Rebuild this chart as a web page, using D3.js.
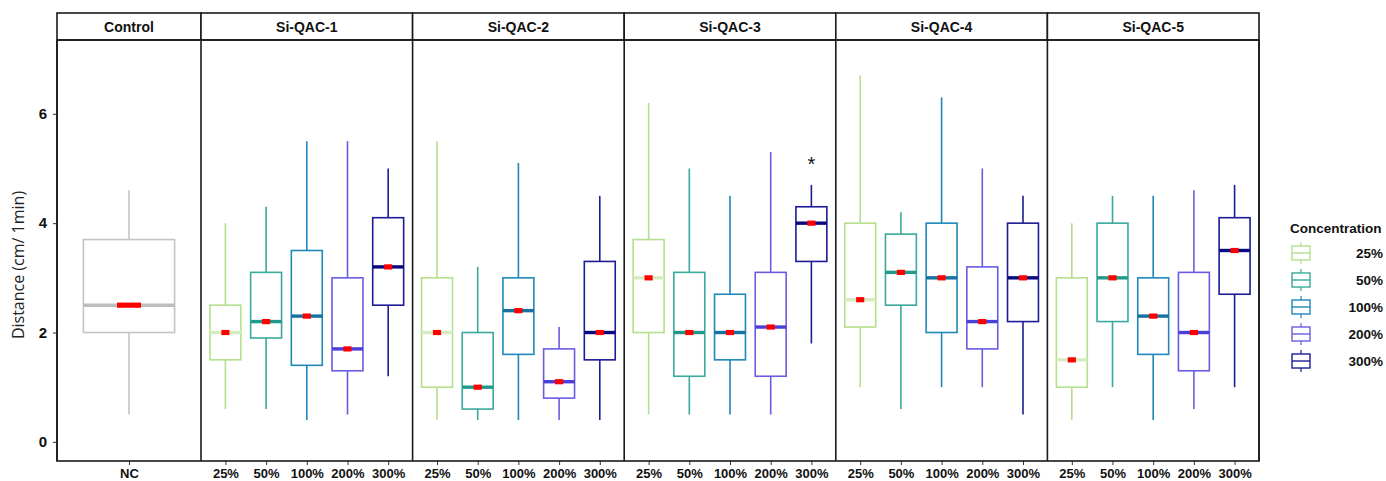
<!DOCTYPE html>
<html>
<head>
<meta charset="utf-8">
<script src="https://cdn.jsdelivr.net/npm/d3@7"></script>
<style>
  body { margin: 0; background: #fff; }
  svg { display: block; font-family: "Liberation Sans", Arial, sans-serif; }
</style>
</head>
<body>
<div id="chart"></div>
<script>
// ---- data ----
const groups = ["Si-QAC-1", "Si-QAC-2", "Si-QAC-3", "Si-QAC-4", "Si-QAC-5"]
const concentrations = ["25%", "50%", "100%", "200%", "300%"]
const concColors = ["#b5df8c", "#38a99a", "#1f88b8", "#6a5ce2", "#1c1c96"]
const medianColors = ["#d6ecc0", "#1f9a8a", "#16729f", "#4a3fd6", "#0a0a80"]

// one row per group, one value per concentration
const whiskerLow = [
  [0.6, 0.6, 0.4, 0.5, 1.2],
  [0.4, 0.4, 0.4, 0.4, 0.4],
  [0.5, 0.5, 0.5, 0.5, 1.8],
  [1.0, 0.6, 1.0, 1.0, 0.5],
  [0.4, 1.0, 0.4, 0.6, 1.0]
]
const q1 = [
  [1.5, 1.9, 1.4, 1.3, 2.5],
  [1.0, 0.6, 1.6, 0.8, 1.5],
  [2.0, 1.2, 1.5, 1.2, 3.3],
  [2.1, 2.5, 2.0, 1.7, 2.2],
  [1.0, 2.2, 1.6, 1.3, 2.7]
]
const medians = [
  [2.0, 2.2, 2.3, 1.7, 3.2],
  [2.0, 1.0, 2.4, 1.1, 2.0],
  [3.0, 2.0, 2.0, 2.1, 4.0],
  [2.6, 3.1, 3.0, 2.2, 3.0],
  [1.5, 3.0, 2.3, 2.0, 3.5]
]
const q3 = [
  [2.5, 3.1, 3.5, 3.0, 4.1],
  [3.0, 2.0, 3.0, 1.7, 3.3],
  [3.7, 3.1, 2.7, 3.1, 4.3],
  [4.0, 3.8, 4.0, 3.2, 4.0],
  [3.0, 4.0, 3.0, 3.1, 4.1]
]
const whiskerHigh = [
  [4.0, 4.3, 5.5, 5.5, 5.0],
  [5.5, 3.2, 5.1, 2.1, 4.5],
  [6.2, 5.0, 4.5, 5.3, 4.7],
  [6.7, 4.2, 6.3, 5.0, 4.5],
  [4.0, 4.5, 4.5, 4.6, 4.7]
]
const means = [
  [2.0, 2.2, 2.3, 1.7, 3.2],
  [2.0, 1.0, 2.4, 1.1, 2.0],
  [3.0, 2.0, 2.0, 2.1, 4.0],
  [2.6, 3.1, 3.0, 2.2, 3.0],
  [1.5, 3.0, 2.3, 2.0, 3.5]
]
// significance marks: [group index, concentration index, label]
const signif = [[2, 4, "*"]]

const controlLabel = "NC"
const controlStats = { low: 0.5, q1: 2.0, median: 2.5, q3: 3.7, high: 4.6, mean: 2.5 }
const controlColor = "#c4c4c4"
const yTicks = [0, 2, 4, 6]

// ---- layout ----
const width = 1386, height = 481
const plotTop = 13, stripH = 27, plotBottom = 461
const ctrlLeft = 57, ctrlRight = 201, groupsRight = 1259

const svg = d3.select("#chart").append("svg")
  .attr("width", width)
  .attr("height", height)

let y = d3.scaleLinear()
  .domain([-0.35, 7.35])
  .range([plotBottom, plotTop + stripH])

let panelX = d3.scaleBand()
  .domain(groups)
  .range([ctrlRight, groupsRight])

const boxFrac = 0.76, meanFrac = 0.2

function drawBox(g, cx, step, s, color, medColor) {
  let bw = step * boxFrac
  g.append("line")
    .attr("x1", cx).attr("x2", cx)
    .attr("y1", y(s.high)).attr("y2", y(s.q3))
    .attr("stroke", color).attr("stroke-width", 1.6)
  g.append("line")
    .attr("x1", cx).attr("x2", cx)
    .attr("y1", y(s.q1)).attr("y2", y(s.low))
    .attr("stroke", color).attr("stroke-width", 1.6)
  g.append("rect")
    .attr("x", cx - bw / 2).attr("y", y(s.q3))
    .attr("width", bw).attr("height", y(s.q1) - y(s.q3))
    .attr("fill", "white").attr("stroke", color).attr("stroke-width", 1.6)
  g.append("line")
    .attr("x1", cx - bw / 2).attr("x2", cx + bw / 2)
    .attr("y1", y(s.median)).attr("y2", y(s.median))
    .attr("stroke", medColor).attr("stroke-width", 3.4)
  let mw = step * meanFrac
  g.append("rect")
    .attr("x", cx - mw / 2).attr("y", y(s.mean) - 2.6)
    .attr("width", mw).attr("height", 5.2)
    .attr("fill", "#ff0000")
}

function drawStrip(x0, x1, label) {
  svg.append("rect")
    .attr("x", x0).attr("y", plotTop)
    .attr("width", x1 - x0).attr("height", stripH)
    .attr("fill", "white").attr("stroke", "#1a1a1a").attr("stroke-width", 1.6)
  svg.append("text")
    .attr("x", (x0 + x1) / 2).attr("y", plotTop + stripH / 2 + 5)
    .attr("text-anchor", "middle")
    .attr("font-size", "14px").attr("font-weight", "bold")
    .attr("fill", "#111")
    .text(label)
}

function drawBottomAxis(scale) {
  svg.append("g")
    .attr("transform", `translate(0, ${plotBottom})`)
    .call(d3.axisBottom(scale).tickSize(4).tickSizeOuter(0))
    .call(g => g.select(".domain").remove())
    .call(g => g.selectAll(".tick line").attr("stroke", "#333"))
    .call(g => g.selectAll(".tick text")
      .attr("y", 8)
      .attr("font-family", "Liberation Sans, Arial, sans-serif")
      .attr("font-size", "13px").attr("font-weight", "bold")
      .attr("fill", "#111"))
}

// control panel
let ctrlX = d3.scalePoint().domain([controlLabel]).range([ctrlLeft, ctrlRight]).padding(0.6)
let ctrlStep = (ctrlRight - ctrlLeft) / 1.2
drawBox(svg.append("g"), ctrlX(controlLabel), ctrlStep, controlStats, controlColor, "#bdbdbd")
drawStrip(ctrlLeft, ctrlRight, "Control")
drawBottomAxis(ctrlX)

// group panels
groups.forEach((grp, gi) => {
  let x0 = panelX(grp), x1 = x0 + panelX.bandwidth()
  let xs = d3.scalePoint().domain(concentrations).range([x0, x1]).padding(0.6)
  let step = xs.step()
  let g = svg.append("g")
  concentrations.forEach((c, ci) => {
    drawBox(g, xs(c), step, {
      low: whiskerLow[gi][ci], q1: q1[gi][ci], median: medians[gi][ci],
      q3: q3[gi][ci], high: whiskerHigh[gi][ci], mean: means[gi][ci]
    }, concColors[ci], medianColors[ci])
  })
  signif.filter(s => s[0] === gi).forEach(s => {
    g.append("text")
      .attr("x", xs(concentrations[s[1]]))
      .attr("y", y(whiskerHigh[gi][s[1]] + 0.25))
      .attr("text-anchor", "middle")
      .attr("font-size", "20px").attr("fill", "#111")
      .text(s[2])
  })
  drawStrip(x0, x1, grp)
  drawBottomAxis(xs)
})

// panel borders
const borders = [ctrlLeft, ctrlRight].concat(groups.map(gr => panelX(gr) + panelX.bandwidth()))
svg.append("rect")
  .attr("x", ctrlLeft).attr("y", plotTop + stripH)
  .attr("width", groupsRight - ctrlLeft).attr("height", plotBottom - plotTop - stripH)
  .attr("fill", "none").attr("stroke", "#1a1a1a").attr("stroke-width", 1.6)
svg.selectAll(".sep").data(borders).enter().append("line")
  .attr("x1", d => d).attr("x2", d => d)
  .attr("y1", plotTop + stripH).attr("y2", plotBottom)
  .attr("stroke", "#1a1a1a").attr("stroke-width", 1.6)

// y axis
svg.append("g")
  .attr("transform", `translate(${ctrlLeft}, 0)`)
  .call(d3.axisLeft(y).tickValues(yTicks).tickSize(4).tickFormat(d3.format("d")))
  .call(g => g.select(".domain").remove())
  .call(g => g.selectAll(".tick line").attr("stroke", "#333"))
  .call(g => g.selectAll(".tick text")
    .attr("x", -10)
    .attr("font-family", "Liberation Sans, Arial, sans-serif")
    .attr("font-size", "15px").attr("font-weight", "bold")
    .attr("fill", "#111"))

svg.append("text")
  .attr("transform", "translate(24, 265) rotate(-90)")
  .attr("text-anchor", "middle")
  .attr("font-family", "Open Sans, sans-serif")
  .attr("font-size", "16px").attr("fill", "#222")
  .text("Distance (cm/ 1min)")

// legend
let legend = svg.append("g").attr("transform", "translate(1290, 0)")
legend.append("text")
  .attr("x", 0).attr("y", 233)
  .attr("font-size", "13.5px").attr("font-weight", "bold").attr("fill", "#111")
  .text("Concentration")
concentrations.forEach((c, i) => {
  let cy = 253 + i * 27, col = concColors[i]
  let k = legend.append("g")
  k.append("line").attr("x1", 11).attr("x2", 11).attr("y1", cy - 11).attr("y2", cy + 11)
    .attr("stroke", col).attr("stroke-width", 1.2)
  k.append("rect").attr("x", 2).attr("y", cy - 7).attr("width", 18).attr("height", 14)
    .attr("fill", "white").attr("stroke", col).attr("stroke-width", 1.4)
  k.append("line").attr("x1", 2).attr("x2", 20).attr("y1", cy).attr("y2", cy)
    .attr("stroke", col).attr("stroke-width", 1.4)
  legend.append("text")
    .attr("x", 93).attr("y", cy + 5)
    .attr("text-anchor", "end")
    .attr("font-size", "13.5px").attr("font-weight", "bold").attr("fill", "#111")
    .text(c)
})
</script>
</body>
</html>
